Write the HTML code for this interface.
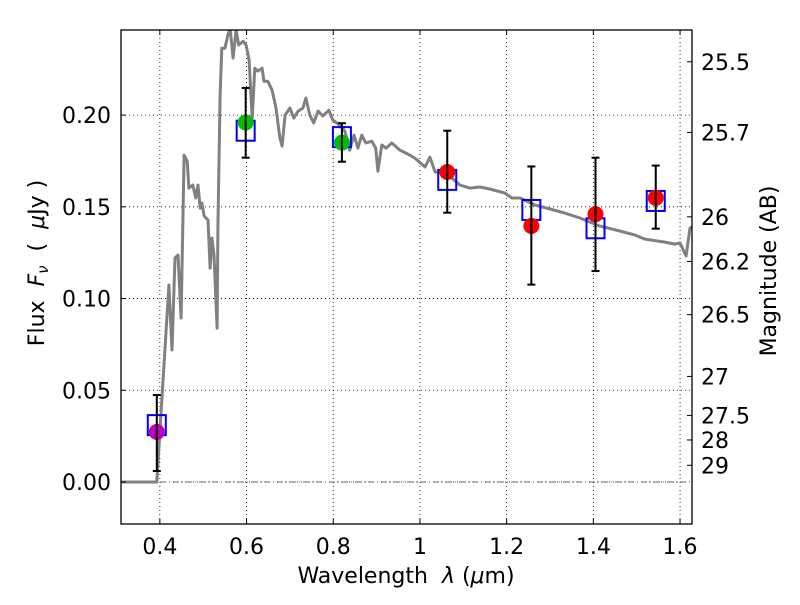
<!DOCTYPE html>
<html><head><meta charset="utf-8"><style>
body{margin:0;background:#fff;width:800px;height:600px;overflow:hidden}
svg text{font-family:"DejaVu Sans","Liberation Sans",sans-serif;fill:#000;white-space:pre}
</style></head><body>
<svg id="chart" width="800" height="600" xmlns="http://www.w3.org/2000/svg" xml:space="preserve">
<rect width="800" height="600" fill="#fff"/>
<g id="grid"></g>
<g id="spec"></g>
<g id="pts"></g>
<rect x="121" y="30" width="571" height="494" fill="none" stroke="#000" stroke-width="1.3"/>
<g id="axes"></g>
<text x="406" y="583" font-size="22" text-anchor="middle">Wavelength  <tspan font-style="italic">λ</tspan> (<tspan font-style="italic">μ</tspan>m)</text>
<text transform="translate(44,263) rotate(-90)" font-size="22" text-anchor="middle">Flux  <tspan font-style="italic">F<tspan font-size="15" dy="4">ν</tspan></tspan><tspan dy="-4">  (  </tspan><tspan font-style="italic">μ</tspan>Jy )</text>
<text transform="translate(776,271) rotate(-90)" font-size="22" text-anchor="middle">Magnitude (AB)</text>
</svg>
<script>
const specWl=[0.310,0.393,0.421,0.428,0.435,0.442,0.449,0.456,0.463,0.467,0.476,0.483,0.488,0.493,0.497,0.502,0.511,0.516,0.520,0.525,0.532,0.534,0.539,0.543,0.550,0.557,0.562,0.569,0.576,0.582,0.592,0.599,0.606,0.613,0.619,0.626,0.636,0.640,0.649,0.659,0.668,0.677,0.682,0.689,0.700,0.709,0.719,0.730,0.737,0.746,0.755,0.765,0.776,0.790,0.799,0.815,0.827,0.838,0.848,0.857,0.866,0.875,0.889,0.898,0.903,0.912,0.922,0.935,0.954,0.968,0.988,1.012,1.023,1.035,1.058,1.092,1.115,1.138,1.161,1.196,1.212,1.231,1.265,1.300,1.334,1.369,1.415,1.461,1.496,1.519,1.565,1.588,1.600,1.614,1.623,1.634];
const specFlux=[0,0,0.1074,0.0720,0.1221,0.1237,0.0894,0.1782,0.1749,0.1602,0.1619,0.1548,0.1619,0.1493,0.1521,0.1450,0.1428,0.1166,0.1330,0.1237,0.0839,0.1384,0.2109,0.2365,0.2365,0.2436,0.2474,0.2311,0.2463,0.2382,0.2403,0.2382,0.2300,0.1984,0.2256,0.2240,0.2256,0.2185,0.2185,0.2136,0.2038,0.1875,0.1831,0.2000,0.2038,0.1984,0.2022,0.2038,0.2093,0.2000,0.1957,0.2022,0.1995,0.2027,0.1973,0.1946,0.1913,0.1809,0.1891,0.1820,0.1891,0.1848,0.1858,0.1820,0.1695,0.1837,0.1820,0.1848,0.1809,0.1793,0.1766,0.1717,0.1771,0.1690,0.1690,0.1619,0.1602,0.1608,0.1597,0.1575,0.1548,0.1548,0.1510,0.1488,0.1466,0.1439,0.1395,0.1368,0.1346,0.1324,0.1308,0.1297,0.1303,0.1232,0.1384,0.1400];
const ptWl=[0.393,0.598,0.820,1.063,1.257,1.405,1.544];
const ptFlux=[0.0273,0.196,0.185,0.169,0.1396,0.146,0.1549];
const ptErrHi=[0.0474,0.2148,0.1956,0.1915,0.172,0.1768,0.1725];
const ptErrLo=[0.006,0.1768,0.1746,0.1468,0.1076,0.115,0.1381];
const ptColor=['#bf00bf','#00bf00','#00bf00','#ff0000','#ff0000','#ff0000','#ff0000'];
const modelFlux=[0.031,0.1915,0.188,0.1647,0.1483,0.1383,0.1532];
const xTicks=[0.4,0.6,0.8,1.0,1.2,1.4,1.6];
const xTickLabels=['0.4','0.6','0.8','1','1.2','1.4','1.6'];
const yTicks=[0,0.05,0.10,0.15,0.20];
const yTickLabels=['0.00','0.05','0.10','0.15','0.20'];
const magTicks=[25.5,25.7,26,26.2,26.5,27,27.5,28,29];
const magTickLabels=['25.5','25.7','26','26.2','26.5','27','27.5','28','29'];

const NS='http://www.w3.org/2000/svg';
const X0=121,X1=692,Y0=30,Y1=524;
const xmin=0.3104,xmax=1.6276,ymin=-0.0229,ymax=0.2464;
const xs=v=>X0+(v-xmin)/(xmax-xmin)*(X1-X0);
const ys=v=>Y1-(v-ymin)/(ymax-ymin)*(Y1-Y0);
const magToFlux=m=>Math.pow(10,(23.9-m)/2.5);
function mk(tag,attrs,parent){const e=document.createElementNS(NS,tag);for(const k in attrs)e.setAttribute(k,attrs[k]);parent.appendChild(e);return e;}
const grid=document.getElementById('grid'),axes=document.getElementById('axes'),spec=document.getElementById('spec'),pts=document.getElementById('pts');

xTicks.forEach((t,i)=>{const x=xs(t);
 const g=mk('line',{x1:x,x2:x,y1:Y0,y2:Y1,stroke:'#000','stroke-width':0.8,'stroke-dasharray':'1,3'},grid);
 
 
 mk('line',{x1:x,x2:x,y1:Y1,y2:Y1-5,stroke:'#000'},axes);
 mk('line',{x1:x,x2:x,y1:Y0,y2:Y0+5,stroke:'#000'},axes);
 const l=mk('text',{x:x,y:Y1+30,'font-size':22,'text-anchor':'middle'},axes);l.textContent=xTickLabels[i];
 
 
});
yTicks.forEach((t,i)=>{const y=ys(t);
 const g=mk('line',{x1:X0,x2:X1,y1:y,y2:y,stroke:'#000','stroke-width':0.8,'stroke-dasharray':'1,3'},grid);
 
 
 mk('line',{x1:X0,x2:X0+5,y1:y,y2:y,stroke:'#000'},axes);
 const l=mk('text',{x:X0-10,y:y+8,'font-size':22,'text-anchor':'end'},axes);l.textContent=yTickLabels[i];
 
 
});
const zl=mk('line',{x1:X0,x2:X1,y1:ys(0),y2:ys(0),stroke:'#444','stroke-width':0.8,'stroke-dasharray':'6,3,1,3'},grid);


magTicks.forEach((m,i)=>{const y=ys(magToFlux(m));
 mk('line',{x1:X1,x2:X1-5,y1:y,y2:y,stroke:'#000'},axes);
 const l=mk('text',{x:X1+9,y:y+8,'font-size':22},axes);l.textContent=magTickLabels[i];
 
 
});
const clip=mk('clipPath',{id:'pc'},document.getElementById('chart'));
mk('rect',{x:X0,y:Y0,width:X1-X0,height:Y1-Y0},clip);
const d=specWl.map((w,i)=>(i?'L':'M')+xs(w).toFixed(1)+','+ys(specFlux[i]).toFixed(1)).join('');
const sp=mk('path',{d:d,fill:'none',stroke:'#808080','stroke-width':3,'stroke-linejoin':'round','clip-path':'url(#pc)'},spec);


ptWl.forEach((w,i)=>{const x=xs(w);
 const sq=mk('rect',{x:x-9,y:ys(modelFlux[i])-10,width:18,height:20,fill:'none',stroke:'#0000ff','stroke-width':2},pts);
 
 
 const c=mk('circle',{cx:x,cy:ys(ptFlux[i]),r:8,fill:ptColor[i]},pts);
 
 
 const yh=ys(ptErrHi[i]),yl=ys(ptErrLo[i]);
 const eb=mk('g',{stroke:'#000','stroke-width':2},pts);
 
 
 mk('line',{x1:x,x2:x,y1:yh,y2:yl},eb);
 mk('line',{x1:x-4,x2:x+4,y1:yh,y2:yh},eb);
 mk('line',{x1:x-4,x2:x+4,y1:yl,y2:yl},eb);
});
</script>
</body></html>
